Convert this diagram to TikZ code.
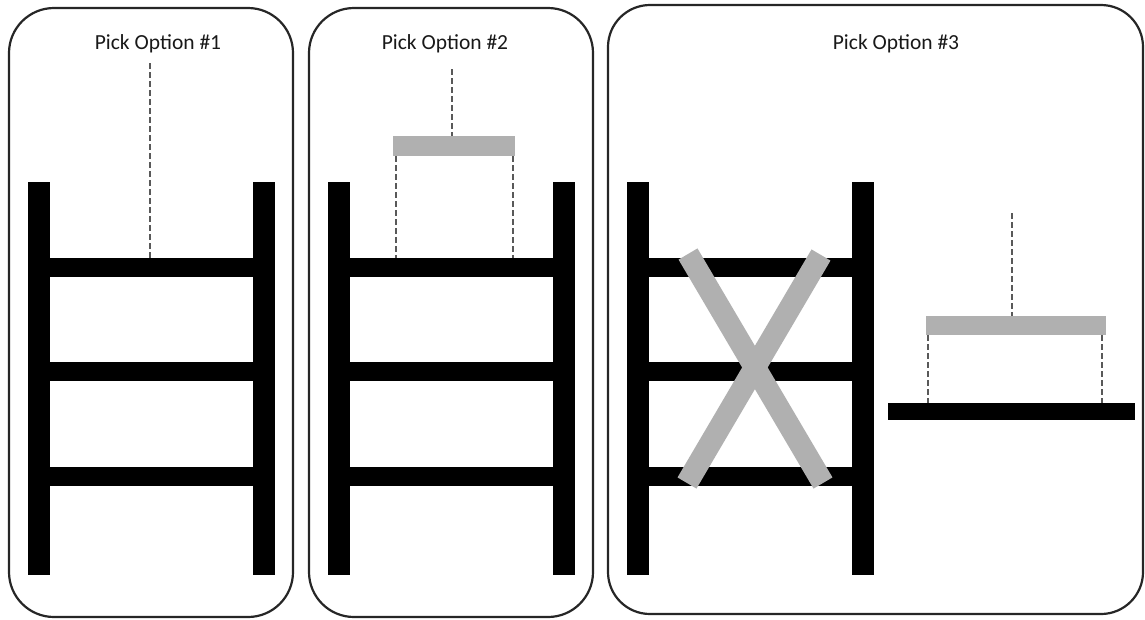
\documentclass[tikz,border=0pt]{standalone}
\usepackage{fontspec}
\setmainfont{Carlito}
\begin{document}
\begin{tikzpicture}[x=1pt,y=-1pt,
  panel/.style={draw=black!85,line width=2.2pt,fill=white},
  title/.style={font=\fontsize{21.5}{24}\selectfont,text=black!90,inner sep=0pt},
  rail/.style={fill=black,inner sep=0pt,minimum width=22pt,minimum height=393pt},
  rung/.style={fill=black,inner sep=0pt,minimum width=205pt,minimum height=19pt},
  load/.style={fill=black!31,inner sep=0pt,minimum height=20pt},
  platform/.style={fill=black,inner sep=0pt,minimum width=247pt,minimum height=17pt},
  hang/.style={draw=black!65,line width=2.2pt,dash pattern=on 6pt off 3pt},
  cross/.style={draw=black!31,line width=22pt}]
\useasboundingbox (0,0) rectangle (1145,619);

% three option panels
\draw[panel,rounded corners=45pt] (9,8) rectangle (293,617);
\draw[panel,rounded corners=45pt] (309,8) rectangle (593,617);
\draw[panel,rounded corners=42pt] (608,5) rectangle (1143,614);

\node[title] (t1) at (158,44) {Pick Option \#1};
\node[title] (t2) at (445,44) {Pick Option \#2};
\node[title] (t3) at (896,44) {Pick Option \#3};

% ladder 1: single hoist line down to the top rung
\node[rail] (l1a) at (39,378.5) {};
\node[rail] (l1b) at (263.5,378.5) {};
\node[rung] (g11) at (151.5,267.5) {};
\node[rung] (g12) at (151.5,371) {};
\node[rung] (g13) at (151.5,476.5) {};
\coordinate (h1) at (150,63);
\draw[hang] (h1) -- (h1 |- g11.north);

% ladder 2: spreader bar above the top rung
\node[rail] (l2a) at (339,378.5) {};
\node[rail] (l2b) at (564,378.5) {};
\node[rung] (g21) at (451.5,267.5) {};
\node[rung] (g22) at (451.5,371) {};
\node[rung] (g23) at (451.5,476.5) {};
\node[load,minimum width=122pt] (b2) at (454,146) {};
\coordinate (h2) at (452,69);
\draw[hang] (h2) -- (h2 |- b2.north);
\draw[hang] ([xshift=3pt]b2.south west) -- ([xshift=3pt]b2.south west |- g21.north);
\draw[hang] ([xshift=-2pt]b2.south east) -- ([xshift=-2pt]b2.south east |- g21.north);

% ladder 3: crossed out
\node[rail] (l3a) at (638,378.5) {};
\node[rail] (l3b) at (862.5,378.5) {};
\node[rung] (g31) at (750,267.5) {};
\node[rung] (g32) at (750,371) {};
\node[rung] (g33) at (750,476.5) {};
\coordinate (xa) at (688,254);
\coordinate (xb) at (823,483);
\coordinate (xc) at (821,255);
\coordinate (xd) at (687,483);
\draw[cross] (xa) -- (xb);
\draw[cross] (xc) -- (xd);

% option 3: spreader bar over a flat platform
\node[platform] (p3) at (1011.5,411.5) {};
\node[load,minimum width=180pt,minimum height=19pt] (b3) at (1016,325.5) {};
\coordinate (h3) at (1012,213);
\draw[hang] (h3) -- (h3 |- b3.north);
\draw[hang] ([xshift=2pt]b3.south west) -- ([xshift=2pt]b3.south west |- p3.north);
\draw[hang] ([xshift=-4pt]b3.south east) -- ([xshift=-4pt]b3.south east |- p3.north);
\end{tikzpicture}
\end{document}
